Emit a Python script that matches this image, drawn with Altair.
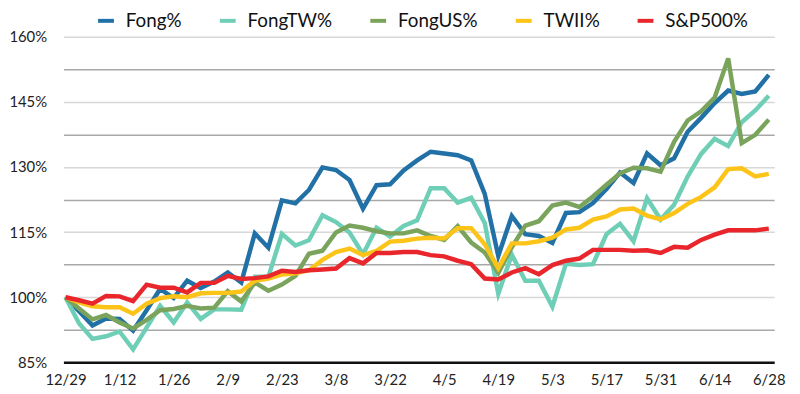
import altair as alt
import pandas as pd

# x-axis tick labels (every 4th observation)
TICK_LABELS = ["12/29", "1/12", "1/26", "2/9", "2/23", "3/8", "3/22",
               "4/5", "4/19", "5/3", "5/17", "5/31", "6/14", "6/28"]

SERIES = ["Fong%", "FongTW%", "FongUS%", "TWII%", "S&P500%"]
COLORS = ["#2170a6", "#6fcfb6", "#7aa35c", "#fcc419", "#e8262b"]

fong = [100, 96.8, 93.5, 95.1, 95.0, 92.3, 97.0, 101.9, 99.8, 103.8,
        102.1, 103.6, 105.7, 103.4, 114.7, 111.4, 122.3, 121.6, 124.7, 129.9,
        129.3, 127.0, 120.4, 125.8, 126.0, 129.2, 131.5, 133.5, 133.1, 132.7,
        131.5, 123.8, 109.5, 118.7, 114.5, 114.1, 112.5, 119.4, 119.6, 121.7,
        124.9, 128.7, 126.3, 133.1, 130.4, 132.0, 138.1, 141.3, 144.7, 147.6,
        146.8, 147.4, 151.2]

fong_tw = [100, 94.0, 90.4, 91.0, 92.1, 88.0, 93.0, 98.0, 94.2, 98.8,
           95.0, 97.2, 97.2, 97.1, 104.7, 104.7, 114.6, 111.9, 113.1, 118.9,
           117.3, 114.9, 109.9, 116.0, 114.0, 116.4, 117.7, 125.1, 125.1, 121.8,
           122.9, 117.1, 100.8, 109.8, 103.8, 103.8, 97.8, 107.7, 107.4, 107.6,
           114.5, 116.9, 112.9, 122.8, 117.9, 121.3, 127.8, 133.0, 136.5, 134.8,
           140.3, 143.0, 146.4]

fong_us = [100, 97.4, 94.9, 95.9, 94.2, 92.8, 94.8, 97.0, 97.3, 98.0,
           97.4, 97.6, 101.4, 99.0, 103.4, 101.5, 102.9, 104.9, 110.0, 110.7,
           114.9, 116.5, 116.0, 115.2, 114.7, 114.7, 115.4, 114.1, 113.2, 116.4,
           112.6, 110.3, 105.6, 111.5, 116.5, 117.5, 121.1, 121.8, 120.8, 123.2,
           125.9, 128.5, 129.8, 129.7, 128.9, 135.8, 140.7, 142.8, 146.0, 155.0,
           135.5, 137.4, 140.9]

twii = [100, 98.8, 97.9, 97.7, 97.7, 96.2, 98.5, 99.8, 100.2, 100.0,
        100.9, 101.0, 101.0, 101.3, 103.8, 104.3, 105.2, 105.5, 106.2, 108.6,
        110.4, 111.2, 109.7, 110.7, 112.8, 113.0, 113.5, 113.7, 113.5, 115.9,
        115.9, 112.2, 106.7, 112.4, 112.4, 112.9, 113.7, 115.6, 116.0, 117.9,
        118.6, 120.2, 120.4, 118.8, 117.9, 119.4, 121.5, 123.1, 125.3, 129.5,
        129.7, 127.8, 128.4]

sp500 = [100, 99.3, 98.5, 100.3, 100.2, 99.1, 102.9, 102.2, 102.2, 101.1,
         103.3, 103.3, 104.9, 104.2, 104.4, 104.8, 106.1, 105.8, 106.2, 106.4,
         106.6, 109.0, 107.8, 110.2, 110.2, 110.4, 110.4, 109.7, 109.4, 108.4,
         107.6, 104.3, 104.1, 105.7, 106.7, 105.3, 107.4, 108.4, 108.9, 110.9,
         110.9, 110.9, 110.7, 110.8, 110.2, 111.6, 111.4, 113.2, 114.4, 115.4,
         115.4, 115.4, 115.8]

rows = []
for name, vals in zip(SERIES, [fong, fong_tw, fong_us, twii, sp500]):
    for i, v in enumerate(vals):
        rows.append({"idx": i, "value": v, "series": name})
df = pd.DataFrame(rows)

label_arr = "[" + ",".join("'" + t + "'" for t in TICK_LABELS) + "]"
x_label_expr = label_arr + "[round(datum.value / 4)]"

y_vals = [85 + 7.5 * k for k in range(11)]

chart = alt.Chart(df).mark_line(strokeWidth=4.5, strokeJoin="miter").encode(
    x=alt.X("idx:Q",
            scale=alt.Scale(domain=[-0.15, 52.4], nice=False, zero=False),
            axis=alt.Axis(values=list(range(0, 53, 4)), labelExpr=x_label_expr,
                          title=None, grid=False, ticks=False,
                          domainColor="#111111", domainWidth=2.5,
                          labelFont="Lato", labelFontSize=15, labelColor="#222222",
                          labelPadding=10)),
    y=alt.Y("value:Q",
            scale=alt.Scale(domain=[85, 160], nice=False, zero=False),
            axis=alt.Axis(values=y_vals,
                          labelExpr="(datum.value - 85) % 15 == 0 ? datum.value + '%' : ''",
                          title=None, ticks=False, domain=False,
                          gridColor={"condition": {"test": "(datum.value - 85) % 15 == 0",
                                                   "value": "#d8d8d8"},
                                     "value": "#a8a8a8"},
                          gridWidth=1.5,
                          labelFont="Lato", labelFontSize=15, labelColor="#222222",
                          labelPadding=17)),
    color=alt.Color("series:N",
                    scale=alt.Scale(domain=SERIES, range=COLORS),
                    sort=SERIES,
                    legend=alt.Legend(title=None, orient="none", direction="horizontal",
                                      legendX=33, legendY=-26, padding=0,
                                      symbolType="stroke", symbolStrokeWidth=4,
                                      symbolSize=256, labelFont="Lato",
                                      labelFontSize=19, labelColor="#111111",
                                      labelOffset=10, columnPadding=30)),
    order=alt.Order("idx:Q"),
).properties(
    width=718, height=329,
    padding={"left": 56, "top": 27, "right": 18, "bottom": 30},
    autosize="none",
).configure_view(stroke=None)

chart.save("out.html", embed_options={"renderer": "svg", "actions": False})
